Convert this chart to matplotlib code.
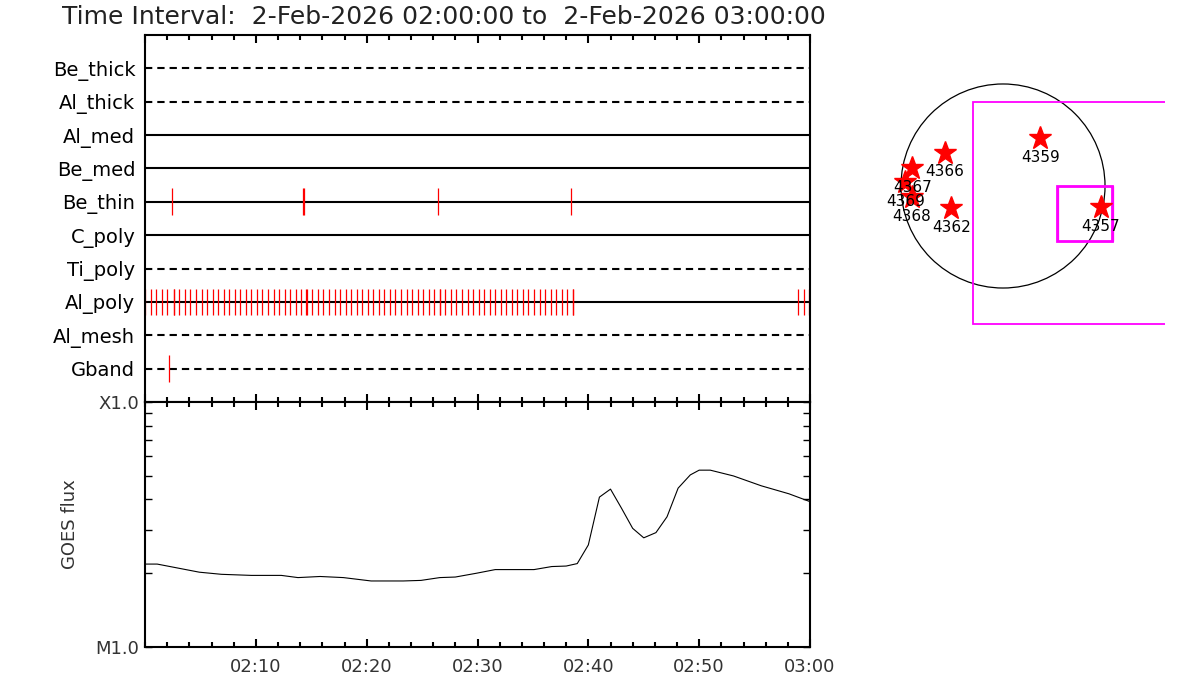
import numpy as np
import matplotlib
matplotlib.use("Agg")
import matplotlib.pyplot as plt
from matplotlib.ticker import MultipleLocator, LogLocator, NullFormatter
from matplotlib.patches import Circle, Rectangle

plt.rcParams['font.family'] = ['DejaVu Sans']

# detector rows, top to bottom, and whether the row line is dashed
rows = ["Be_thick", "Al_thick", "Al_med", "Be_med", "Be_thin",
        "C_poly", "Ti_poly", "Al_poly", "Al_mesh", "Gband"]
dashed = [True, True, False, False, False, False, True, False, True, True]

# exposure times, minutes after 02:00
be_thin_times = [2.4, 14.3, 14.36, 26.4, 38.4]
al_poly_times = [0.0, 0.5, 1.0, 1.5, 2.0, 2.6, 2.66, 3.1, 3.6, 4.1, 4.6, 5.1,
                 5.6, 6.1, 6.6, 7.1, 7.6, 8.1, 8.6, 9.1, 9.6, 10.1, 10.6,
                 11.1, 11.6, 12.1, 12.6, 13.1, 13.6, 14.1, 14.54, 14.6, 15.1,
                 15.6, 16.1, 16.6, 17.1, 17.6, 18.1, 18.6, 19.1, 19.6, 20.1,
                 20.6, 21.1, 21.6, 22.1, 22.6, 23.1, 23.6, 24.1, 24.6, 25.1,
                 25.6, 26.1, 26.6, 26.66, 27.1, 27.6, 28.1, 28.6, 29.1, 29.6,
                 30.1, 30.6, 31.1, 31.6, 32.1, 32.6, 33.1, 33.6, 34.1, 34.6,
                 35.1, 35.6, 36.1, 36.6, 37.1, 37.6, 38.1, 38.6, 38.66,
                 58.95, 59.45, 59.95]
gband_times = [2.2]
events = {"Be_thin": be_thin_times, "Al_poly": al_poly_times, "Gband": gband_times}

# GOES flux curve
goes_t = [0.0, 1.1, 4.9, 6.9, 9.6, 12.3, 13.8, 15.8, 17.9, 20.4, 23.3, 24.9,
          26.6, 28.0, 29.9, 31.6, 35.1, 36.7, 38.0, 39.0, 40.0, 41.0, 42.0,
          43.0, 44.0, 45.0, 46.1, 47.1, 48.1, 49.2, 50.0, 51.0, 53.1, 55.6,
          58.1, 60.0]
goes_flux = [2.18e-5, 2.18e-5, 2.02e-5, 1.98e-5, 1.96e-5, 1.96e-5, 1.92e-5,
             1.94e-5, 1.92e-5, 1.86e-5, 1.86e-5, 1.87e-5, 1.92e-5, 1.93e-5,
             2.00e-5, 2.07e-5, 2.07e-5, 2.13e-5, 2.14e-5, 2.19e-5, 2.61e-5,
             4.09e-5, 4.41e-5, 3.68e-5, 3.05e-5, 2.79e-5, 2.93e-5, 3.40e-5,
             4.45e-5, 5.04e-5, 5.27e-5, 5.27e-5, 4.99e-5, 4.55e-5, 4.22e-5,
             3.92e-5]

time_ticks = [10, 20, 30, 40, 50, 60]
time_labels = ["02:10", "02:20", "02:30", "02:40", "02:50", "03:00"]

# active regions on the disk (arcsec)
ar_numbers = ["4359", "4366", "4367", "4369", "4368", "4362", "4357"]
ar_x = [350, -545, -855, -920, -860, -485, 920]
ar_y = [450, 315, 165, 40, -105, -210, -195]

title = "Time Interval:  2-Feb-2026 02:00:00 to  2-Feb-2026 03:00:00"

W, H = 1200, 700
fig = plt.figure(figsize=(12, 7), dpi=100)
fig.patch.set_facecolor("white")


def box(x0, y0, x1, y1):
    return [x0 / W, 1 - y1 / H, (x1 - x0) / W, (y1 - y0) / H]


ax1 = fig.add_axes(box(145, 35, 810, 402))
ax2 = fig.add_axes(box(145, 402, 810, 647))
ax3 = fig.add_axes(box(840, 35, 1165, 402))

# ---- top panel: exposure timeline
ax1.set_xlim(0, 60)
ax1.set_ylim(len(rows) + 1, 0)
for i, name in enumerate(rows):
    ls = (0, (3.5, 2.4)) if dashed[i] else "-"
    ax1.axhline(i + 1, color="black", lw=1.5, ls=ls)
    if name in events:
        ax1.vlines(events[name], i + 1 - 0.4, i + 1 + 0.4, color="red", lw=0.9)
ax1.set_yticks(range(1, len(rows) + 1))
ax1.set_yticklabels(rows, fontsize=14)
ax1.tick_params(axis="y", length=0, pad=7)
ax1.xaxis.set_major_locator(MultipleLocator(10))
ax1.xaxis.set_minor_locator(MultipleLocator(2))
ax1.tick_params(axis="x", which="both", direction="in", top=True, bottom=True,
                labelbottom=False, width=1.5)
ax1.tick_params(axis="x", which="major", length=6)
ax1.tick_params(axis="x", which="minor", length=3.5)
for s in ax1.spines.values():
    s.set_linewidth(1.5)

# ---- lower panel: GOES flux
ax2.plot(goes_t, goes_flux, color="black", lw=0.8)
ax2.set_yscale("log")
ax2.set_xlim(0, 60)
ax2.set_ylim(1e-5, 1e-4)
ax2.set_yticks([1e-5, 1e-4])
ax2.set_yticklabels(["M1.0", "X1.0"], fontsize=13, color="#333333")
ax2.yaxis.set_minor_locator(LogLocator(base=10, subs=np.arange(2, 10)))
ax2.yaxis.set_minor_formatter(NullFormatter())
ax2.tick_params(axis="y", which="both", direction="in", left=True, right=True,
                length=5, width=1, pad=4)
ax2.set_xticks(time_ticks)
ax2.set_xticklabels(time_labels, fontsize=13, color="#333333")
ax2.xaxis.set_minor_locator(MultipleLocator(2))
ax2.tick_params(axis="x", which="both", direction="in", top=True, bottom=True,
                width=1.5, pad=8)
ax2.tick_params(axis="x", which="major", length=6)
ax2.tick_params(axis="x", which="minor", length=3.5)
ax2.set_ylabel("GOES flux", fontsize=13, color="#333333", labelpad=12)
for s in ax2.spines.values():
    s.set_linewidth(1.5)

# ---- right panel: solar disk with regions and pointing boxes
scale = 9.41  # arcsec per pixel
ax3.set_xlim((840 - 1003) * scale, (1165 - 1003) * scale)
ax3.set_ylim((186 - 402) * scale, (186 - 35) * scale)
ax3.axis("off")
ax3.add_patch(Circle((0, 0), 960, fill=False, ec="black", lw=0.9))
ax3.add_patch(Rectangle((-285, -1301), 2090, 2090, fill=False, ec="#ff00ff", lw=1.3))
ax3.add_patch(Rectangle((505, -518), 518, 521, fill=False, ec="#ff00ff", lw=2))
ax3.add_patch(Rectangle((520, -520), 518, 521, fill=False, ec="#ff00ff", lw=0.9))
ax3.plot(ar_x, ar_y, "*", color="red", ms=17, mec="red")
for num, x, y in zip(ar_numbers, ar_x, ar_y):
    ax3.annotate(num, (x, y), xytext=(0, -14), textcoords="offset points",
                 ha="center", va="center", fontsize=11)

fig.text(62 / W, 1 - 17 / H, title, fontsize=18, ha="left", va="center",
         color="#222222")

fig.savefig("out.png", dpi=100, facecolor="white")
